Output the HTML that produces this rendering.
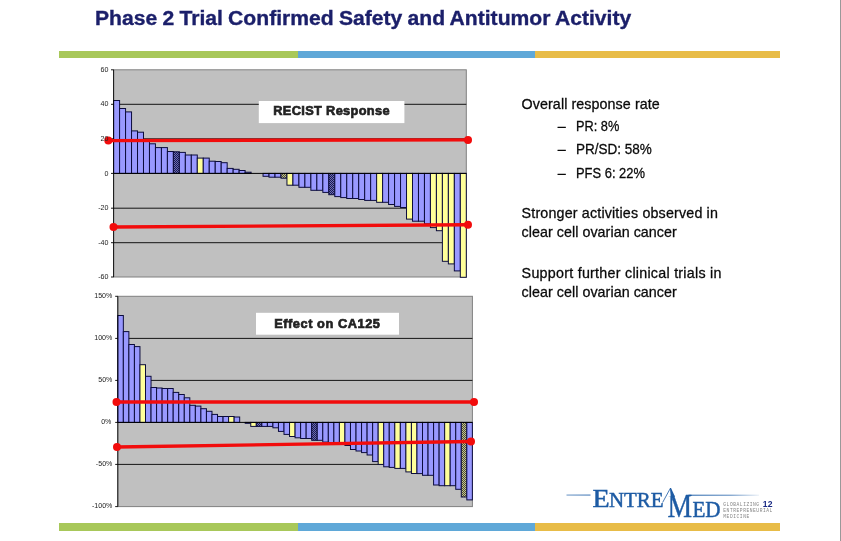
<!DOCTYPE html>
<html><head><meta charset="utf-8"><title>Phase 2 Trial Confirmed Safety and Antitumor Activity</title>
<style>
html,body{margin:0;padding:0;background:#fff;}
body{width:841px;height:541px;position:relative;overflow:hidden;font-family:"Liberation Sans",sans-serif;}
.abs{position:absolute;white-space:nowrap;}
.title{left:95.3px;top:3.3px;word-spacing:-0.6px;font-size:20px;transform:scaleX(1.056);-webkit-text-stroke:0.35px #1b1f6a;font-weight:bold;color:#1b1f6a;line-height:30px;transform-origin:0 0;}
.stripe{position:absolute;height:7px;}
.ax{font-size:7.1px;color:#222;line-height:8px;text-align:right;width:30px;}
.ct{font-size:12.8px;font-weight:bold;color:#222;line-height:14px;transform-origin:0 0;-webkit-text-stroke:0.65px #222;}
.tx{font-size:14.3px;color:#0a0a0a;-webkit-text-stroke:0.28px #0a0a0a;line-height:16px;transform-origin:0 0;}
.rb{position:absolute;right:0;top:0;width:1.5px;height:541px;background:#999;}
.logo{font-family:"Liberation Serif",serif;color:#1f5fa8;transform-origin:0 0;}
.tag{font-family:"Liberation Mono",monospace;font-size:4.6px;line-height:6px;color:#858585;letter-spacing:0.55px;}
</style></head><body>
<div class="abs title" id="title" style="letter-spacing:0.000px;">Phase 2 Trial Confirmed Safety and Antitumor Activity</div>
<div class="stripe" style="left:59px;top:51.2px;height:6.6px;width:239px;background:#a8c85a"></div>
<div class="stripe" style="left:297.9px;top:51.2px;height:6.6px;width:237px;background:#5fa8d8"></div>
<div class="stripe" style="left:534.6px;top:51.2px;height:6.6px;width:245.2px;background:#e8bc48"></div>
<div class="stripe" style="left:59px;top:523.4px;height:8px;width:239px;background:#a8c85a"></div>
<div class="stripe" style="left:297.9px;top:523.4px;height:8px;width:237px;background:#5fa8d8"></div>
<div class="stripe" style="left:534.6px;top:523.4px;height:8px;width:245.2px;background:#e8bc48"></div>
<svg width="841" height="541" viewBox="0 0 841 541" style="position:absolute;left:0;top:0">
<defs>
<pattern id="hb" width="2" height="2" patternUnits="userSpaceOnUse"><rect width="2" height="2" fill="#6a6ab8"/><rect width="1" height="1" fill="#1c1c4c"/><rect x="1" y="1" width="1" height="1" fill="#1c1c4c"/></pattern>
<pattern id="ho" width="2" height="2" patternUnits="userSpaceOnUse"><rect width="2" height="2" fill="#c4c48c"/><rect width="1" height="1" fill="#4c4c38"/><rect x="1" y="1" width="1" height="1" fill="#4c4c38"/></pattern>
<linearGradient id="fade" x1="0" x2="1"><stop offset="0" stop-color="#1f5fa8"/><stop offset="0.6" stop-color="#1f5fa8" stop-opacity="0.75"/><stop offset="1" stop-color="#1f5fa8" stop-opacity="0.1"/></linearGradient>
<linearGradient id="fadeL" x1="1" x2="0"><stop offset="0" stop-color="#1f5fa8"/><stop offset="1" stop-color="#1f5fa8" stop-opacity="0.75"/></linearGradient>
</defs>
<rect x="113.6" y="69.8" width="352.7" height="207.2" fill="#c0c0c0" stroke="#808080" stroke-width="1"/>
<line x1="113.6" x2="466.3" y1="104.3" y2="104.3" stroke="#000" stroke-width="0.9"/>
<line x1="113.6" x2="466.3" y1="138.8" y2="138.8" stroke="#000" stroke-width="0.9"/>
<line x1="113.6" x2="466.3" y1="208.2" y2="208.2" stroke="#000" stroke-width="0.9"/>
<line x1="113.6" x2="466.3" y1="242.7" y2="242.7" stroke="#000" stroke-width="0.9"/>
<g stroke="#0c0c3c" stroke-width="1">
<rect x="113.60" y="100.50" width="5.98" height="72.90" fill="#9999ff"/>
<rect x="119.58" y="108.50" width="5.98" height="64.90" fill="#9999ff"/>
<rect x="125.56" y="111.90" width="5.98" height="61.50" fill="#9999ff"/>
<rect x="131.53" y="130.90" width="5.98" height="42.50" fill="#9999ff"/>
<rect x="137.51" y="132.20" width="5.98" height="41.20" fill="#9999ff"/>
<rect x="143.49" y="139.50" width="5.98" height="33.90" fill="#9999ff"/>
<rect x="149.47" y="143.80" width="5.98" height="29.60" fill="#9999ff"/>
<rect x="155.45" y="147.60" width="5.98" height="25.80" fill="#9999ff"/>
<rect x="161.42" y="147.60" width="5.98" height="25.80" fill="#9999ff"/>
<rect x="167.40" y="151.50" width="5.98" height="21.90" fill="#9999ff"/>
<rect x="173.38" y="151.80" width="5.98" height="21.60" fill="url(#hb)"/>
<rect x="179.36" y="152.40" width="5.98" height="21.00" fill="#9999ff"/>
<rect x="185.34" y="155.00" width="5.98" height="18.40" fill="#9999ff"/>
<rect x="191.31" y="155.00" width="5.98" height="18.40" fill="#9999ff"/>
<rect x="197.29" y="158.10" width="5.98" height="15.30" fill="#ffff99"/>
<rect x="203.27" y="158.10" width="5.98" height="15.30" fill="#9999ff"/>
<rect x="209.25" y="161.20" width="5.98" height="12.20" fill="#9999ff"/>
<rect x="215.23" y="161.50" width="5.98" height="11.90" fill="#9999ff"/>
<rect x="221.20" y="162.70" width="5.98" height="10.70" fill="#9999ff"/>
<rect x="227.18" y="168.40" width="5.98" height="5.00" fill="#9999ff"/>
<rect x="233.16" y="169.30" width="5.98" height="4.10" fill="#9999ff"/>
<rect x="239.14" y="170.50" width="5.98" height="2.90" fill="#9999ff"/>
<rect x="245.12" y="172.20" width="5.98" height="1.20" fill="#9999ff"/>
<rect x="263.05" y="173.40" width="5.98" height="2.90" fill="#9999ff"/>
<rect x="269.03" y="173.40" width="5.98" height="3.80" fill="#9999ff"/>
<rect x="275.01" y="173.40" width="5.98" height="3.80" fill="#9999ff"/>
<rect x="280.98" y="173.40" width="5.98" height="4.80" fill="url(#ho)"/>
<rect x="286.96" y="173.40" width="5.98" height="11.80" fill="#ffff99"/>
<rect x="292.94" y="173.40" width="5.98" height="11.80" fill="#9999ff"/>
<rect x="298.92" y="173.40" width="5.98" height="13.90" fill="#9999ff"/>
<rect x="304.90" y="173.40" width="5.98" height="13.90" fill="#9999ff"/>
<rect x="310.87" y="173.40" width="5.98" height="16.90" fill="#9999ff"/>
<rect x="316.85" y="173.40" width="5.98" height="16.90" fill="#9999ff"/>
<rect x="322.83" y="173.40" width="5.98" height="19.00" fill="#9999ff"/>
<rect x="328.81" y="173.40" width="5.98" height="21.30" fill="url(#hb)"/>
<rect x="334.79" y="173.40" width="5.98" height="23.20" fill="#9999ff"/>
<rect x="340.76" y="173.40" width="5.98" height="24.20" fill="#9999ff"/>
<rect x="346.74" y="173.40" width="5.98" height="25.10" fill="#9999ff"/>
<rect x="352.72" y="173.40" width="5.98" height="25.10" fill="#9999ff"/>
<rect x="358.70" y="173.40" width="5.98" height="26.10" fill="#9999ff"/>
<rect x="364.68" y="173.40" width="5.98" height="27.00" fill="#9999ff"/>
<rect x="370.65" y="173.40" width="5.98" height="27.00" fill="#9999ff"/>
<rect x="376.63" y="173.40" width="5.98" height="28.90" fill="#ffff99"/>
<rect x="382.61" y="173.40" width="5.98" height="28.90" fill="#9999ff"/>
<rect x="388.59" y="173.40" width="5.98" height="31.10" fill="#9999ff"/>
<rect x="394.57" y="173.40" width="5.98" height="33.00" fill="#9999ff"/>
<rect x="400.54" y="173.40" width="5.98" height="34.10" fill="#9999ff"/>
<rect x="406.52" y="173.40" width="5.98" height="45.70" fill="#ffff99"/>
<rect x="412.50" y="173.40" width="5.98" height="47.80" fill="#9999ff"/>
<rect x="418.48" y="173.40" width="5.98" height="47.80" fill="#9999ff"/>
<rect x="424.46" y="173.40" width="5.98" height="50.40" fill="#9999ff"/>
<rect x="430.43" y="173.40" width="5.98" height="54.20" fill="#ffff99"/>
<rect x="436.41" y="173.40" width="5.98" height="57.30" fill="#ffff99"/>
<rect x="442.39" y="173.40" width="5.98" height="87.90" fill="#ffff99"/>
<rect x="448.37" y="173.40" width="5.98" height="90.50" fill="#ffff99"/>
<rect x="454.35" y="173.40" width="5.98" height="97.50" fill="#9999ff"/>
<rect x="460.32" y="173.40" width="5.98" height="103.90" fill="#ffff99"/>
</g>
<line x1="113.6" x2="466.3" y1="173.4" y2="173.4" stroke="#000" stroke-width="1"/>
<line x1="113.6" x2="113.6" y1="69.8" y2="277.0" stroke="#000" stroke-width="0.85"/>
<line x1="111" x2="113.6" y1="69.8" y2="69.8" stroke="#000" stroke-width="0.9"/>
<line x1="111" x2="113.6" y1="104.3" y2="104.3" stroke="#000" stroke-width="0.9"/>
<line x1="111" x2="113.6" y1="138.8" y2="138.8" stroke="#000" stroke-width="0.9"/>
<line x1="111" x2="113.6" y1="173.4" y2="173.4" stroke="#000" stroke-width="0.9"/>
<line x1="111" x2="113.6" y1="208.2" y2="208.2" stroke="#000" stroke-width="0.9"/>
<line x1="111" x2="113.6" y1="242.7" y2="242.7" stroke="#000" stroke-width="0.9"/>
<line x1="111" x2="113.6" y1="277.0" y2="277.0" stroke="#000" stroke-width="0.9"/>
<rect x="117.8" y="296.3" width="354.6" height="210.3" fill="#c0c0c0" stroke="#808080" stroke-width="1"/>
<line x1="117.8" x2="472.4" y1="338.4" y2="338.4" stroke="#000" stroke-width="0.9"/>
<line x1="117.8" x2="472.4" y1="380.4" y2="380.4" stroke="#000" stroke-width="0.9"/>
<line x1="117.8" x2="472.4" y1="464.4" y2="464.4" stroke="#000" stroke-width="0.9"/>
<g stroke="#0c0c3c" stroke-width="1">
<rect x="117.80" y="315.50" width="5.54" height="106.90" fill="#9999ff"/>
<rect x="123.34" y="331.60" width="5.54" height="90.80" fill="#9999ff"/>
<rect x="128.88" y="344.50" width="5.54" height="77.90" fill="#9999ff"/>
<rect x="134.42" y="346.60" width="5.54" height="75.80" fill="#9999ff"/>
<rect x="139.96" y="364.70" width="5.54" height="57.70" fill="#ffff99"/>
<rect x="145.50" y="376.30" width="5.54" height="46.10" fill="#9999ff"/>
<rect x="151.04" y="387.50" width="5.54" height="34.90" fill="#9999ff"/>
<rect x="156.58" y="388.00" width="5.54" height="34.40" fill="#9999ff"/>
<rect x="162.12" y="388.50" width="5.54" height="33.90" fill="#9999ff"/>
<rect x="167.66" y="388.50" width="5.54" height="33.90" fill="#9999ff"/>
<rect x="173.20" y="392.40" width="5.54" height="30.00" fill="#9999ff"/>
<rect x="178.74" y="394.50" width="5.54" height="27.90" fill="#9999ff"/>
<rect x="184.28" y="397.80" width="5.54" height="24.60" fill="#9999ff"/>
<rect x="189.82" y="405.30" width="5.54" height="17.10" fill="#9999ff"/>
<rect x="195.36" y="406.10" width="5.54" height="16.30" fill="#9999ff"/>
<rect x="200.90" y="408.70" width="5.54" height="13.70" fill="#9999ff"/>
<rect x="206.44" y="411.30" width="5.54" height="11.10" fill="#9999ff"/>
<rect x="211.98" y="414.40" width="5.54" height="8.00" fill="#9999ff"/>
<rect x="217.52" y="416.50" width="5.54" height="5.90" fill="#9999ff"/>
<rect x="223.06" y="416.50" width="5.54" height="5.90" fill="#9999ff"/>
<rect x="228.60" y="416.50" width="5.54" height="5.90" fill="#ffff99"/>
<rect x="234.14" y="417.00" width="5.54" height="5.40" fill="#9999ff"/>
<rect x="245.22" y="422.40" width="5.54" height="0.90" fill="#9999ff"/>
<rect x="250.76" y="422.40" width="5.54" height="4.00" fill="#ffff99"/>
<rect x="256.30" y="422.40" width="5.54" height="4.00" fill="url(#hb)"/>
<rect x="261.84" y="422.40" width="5.54" height="4.00" fill="#9999ff"/>
<rect x="267.38" y="422.40" width="5.54" height="4.00" fill="#9999ff"/>
<rect x="272.92" y="422.40" width="5.54" height="5.40" fill="#9999ff"/>
<rect x="278.46" y="422.40" width="5.54" height="9.00" fill="#9999ff"/>
<rect x="284.00" y="422.40" width="5.54" height="12.00" fill="#9999ff"/>
<rect x="289.54" y="422.40" width="5.54" height="14.10" fill="#ffff99"/>
<rect x="295.08" y="422.40" width="5.54" height="15.40" fill="#9999ff"/>
<rect x="300.62" y="422.40" width="5.54" height="16.10" fill="#9999ff"/>
<rect x="306.16" y="422.40" width="5.54" height="16.10" fill="#9999ff"/>
<rect x="311.70" y="422.40" width="5.54" height="17.90" fill="url(#hb)"/>
<rect x="317.24" y="422.40" width="5.54" height="17.90" fill="#9999ff"/>
<rect x="322.78" y="422.40" width="5.54" height="19.70" fill="#9999ff"/>
<rect x="328.32" y="422.40" width="5.54" height="20.20" fill="#9999ff"/>
<rect x="333.86" y="422.40" width="5.54" height="20.90" fill="#9999ff"/>
<rect x="339.40" y="422.40" width="5.54" height="22.00" fill="#ffff99"/>
<rect x="344.94" y="422.40" width="5.54" height="23.10" fill="#9999ff"/>
<rect x="350.48" y="422.40" width="5.54" height="27.10" fill="#9999ff"/>
<rect x="356.02" y="422.40" width="5.54" height="28.60" fill="#9999ff"/>
<rect x="361.56" y="422.40" width="5.54" height="30.20" fill="#9999ff"/>
<rect x="367.10" y="422.40" width="5.54" height="32.60" fill="#9999ff"/>
<rect x="372.64" y="422.40" width="5.54" height="39.20" fill="#9999ff"/>
<rect x="378.18" y="422.40" width="5.54" height="42.00" fill="#ffff99"/>
<rect x="383.72" y="422.40" width="5.54" height="44.40" fill="#9999ff"/>
<rect x="389.26" y="422.40" width="5.54" height="45.00" fill="#9999ff"/>
<rect x="394.80" y="422.40" width="5.54" height="46.00" fill="#ffff99"/>
<rect x="400.34" y="422.40" width="5.54" height="46.00" fill="#9999ff"/>
<rect x="405.88" y="422.40" width="5.54" height="49.50" fill="#ffff99"/>
<rect x="411.42" y="422.40" width="5.54" height="51.10" fill="#ffff99"/>
<rect x="416.96" y="422.40" width="5.54" height="51.20" fill="#9999ff"/>
<rect x="422.50" y="422.40" width="5.54" height="52.90" fill="#9999ff"/>
<rect x="428.04" y="422.40" width="5.54" height="52.90" fill="#9999ff"/>
<rect x="433.58" y="422.40" width="5.54" height="62.60" fill="#9999ff"/>
<rect x="439.12" y="422.40" width="5.54" height="63.30" fill="#9999ff"/>
<rect x="444.66" y="422.40" width="5.54" height="63.30" fill="#ffff99"/>
<rect x="450.20" y="422.40" width="5.54" height="63.30" fill="#9999ff"/>
<rect x="455.74" y="422.40" width="5.54" height="66.90" fill="#9999ff"/>
<rect x="461.28" y="422.40" width="5.54" height="74.60" fill="url(#ho)"/>
<rect x="466.82" y="422.40" width="5.54" height="77.50" fill="#9999ff"/>
</g>
<line x1="117.8" x2="472.4" y1="422.4" y2="422.4" stroke="#000" stroke-width="1"/>
<line x1="117.8" x2="117.8" y1="296.3" y2="506.6" stroke="#000" stroke-width="0.85"/>
<line x1="115.2" x2="117.8" y1="296.3" y2="296.3" stroke="#000" stroke-width="0.9"/>
<line x1="115.2" x2="117.8" y1="338.4" y2="338.4" stroke="#000" stroke-width="0.9"/>
<line x1="115.2" x2="117.8" y1="380.4" y2="380.4" stroke="#000" stroke-width="0.9"/>
<line x1="115.2" x2="117.8" y1="422.4" y2="422.4" stroke="#000" stroke-width="0.9"/>
<line x1="115.2" x2="117.8" y1="464.4" y2="464.4" stroke="#000" stroke-width="0.9"/>
<line x1="115.2" x2="117.8" y1="506.6" y2="506.6" stroke="#000" stroke-width="0.9"/>
<rect x="258.8" y="101" width="145.6" height="22.1" fill="#fff"/>
<rect x="256" y="312.8" width="143" height="21.9" fill="#fff"/>
<line x1="108.3" y1="140.6" x2="468" y2="139.9" stroke="#f20c0c" stroke-width="3.4"/><circle cx="108.3" cy="140.6" r="4" fill="#f20c0c"/><circle cx="468" cy="139.9" r="4" fill="#f20c0c"/>
<line x1="113.5" y1="227" x2="468" y2="224.7" stroke="#f20c0c" stroke-width="3.4"/><circle cx="113.5" cy="227" r="4" fill="#f20c0c"/><circle cx="468" cy="224.7" r="4" fill="#f20c0c"/>
<line x1="116.5" y1="402" x2="474" y2="402" stroke="#f20c0c" stroke-width="3.4"/><circle cx="116.5" cy="402" r="4" fill="#f20c0c"/><circle cx="474" cy="402" r="4" fill="#f20c0c"/>
<line x1="117" y1="447" x2="471" y2="441.5" stroke="#f20c0c" stroke-width="3.4"/><circle cx="117" cy="447" r="4" fill="#f20c0c"/><circle cx="471" cy="441.5" r="4" fill="#f20c0c"/>
<g fill="#1d5ba4" font-family="Liberation Serif, serif" stroke="#1d5ba4" stroke-width="0.45">
<rect x="566.5" y="494.6" width="24" height="0.9" fill="url(#fadeL)" stroke="none"/>
<rect x="688.5" y="494.7" width="70.5" height="1" fill="url(#fade)" stroke="none"/>
<text id="lgE" x="592.6" y="506.9" font-size="25.2" textLength="17.2" lengthAdjust="spacingAndGlyphs">E</text>
<text id="lg1" x="609" y="506.9" font-size="20.2" textLength="54.6" lengthAdjust="spacingAndGlyphs">NTRE</text>
<text id="lgM" x="667.5" y="517.4" font-size="33.5" textLength="24.6" lengthAdjust="spacingAndGlyphs">M</text>
<rect x="665.5" y="493" width="5.4" height="3.4" fill="#fff" stroke="none"/>
<line x1="670.6" y1="488.4" x2="671.1" y2="497" stroke="#1d5ba4" stroke-width="0.7"/>
<line x1="662.6" y1="502.5" x2="670.4" y2="488.2" stroke="#1d5ba4" stroke-width="0.8"/>
<polygon points="670.0,488.0 671.0,488.0 675.0,496.8 671.3,496.8" stroke="none"/>
<text id="lg2" x="692.4" y="517.3" font-size="22.2" textLength="28.2" lengthAdjust="spacingAndGlyphs">ED</text>
</g>
</svg>
<div class="abs ax" style="left:78.4px;top:66px">60</div>
<div class="abs ax" style="left:78.4px;top:100px">40</div>
<div class="abs ax" style="left:78.4px;top:135px">20</div>
<div class="abs ax" style="left:78.4px;top:169.5px">0</div>
<div class="abs ax" style="left:78.4px;top:204px">-20</div>
<div class="abs ax" style="left:78.4px;top:239px">-40</div>
<div class="abs ax" style="left:78.4px;top:273px">-60</div>
<div class="abs ax" style="left:82.4px;top:292px">150%</div>
<div class="abs ax" style="left:82.4px;top:334px">100%</div>
<div class="abs ax" style="left:82.4px;top:376px">50%</div>
<div class="abs ax" style="left:81.4px;top:418px">0%</div>
<div class="abs ax" style="left:82.4px;top:460px">-50%</div>
<div class="abs ax" style="left:82.4px;top:502px">-100%</div>
<div class="abs ct" id="ct1" style="letter-spacing:0.341px;left:273.2px;top:104px">RECIST Response</div>
<div class="abs ct" id="ct2" style="letter-spacing:0.542px;left:274.2px;top:316.5px">Effect on CA125</div>
<div class="abs tx" id="t1" style="letter-spacing:0.074px;left:521.6px;top:96px">Overall response rate</div>
<div class="abs tx" id="d1" style="left:557.8px;top:118px">–</div>
<div class="abs tx" id="t2" style="letter-spacing:0.000px;transform:scaleX(0.8934);left:575.7px;top:118px">PR: 8%</div>
<div class="abs tx" id="d2" style="left:557.8px;top:141px">–</div>
<div class="abs tx" id="t3" style="letter-spacing:0.000px;transform:scaleX(0.9444);left:575.7px;top:141px">PR/SD: 58%</div>
<div class="abs tx" id="d3" style="left:557.8px;top:164.5px">–</div>
<div class="abs tx" id="t4" style="letter-spacing:0.000px;transform:scaleX(0.9044);left:575.7px;top:164.5px">PFS 6: 22%</div>
<div class="abs tx" id="t5" style="letter-spacing:0.160px;left:521.6px;top:205px">Stronger activities observed in</div>
<div class="abs tx" id="t6" style="letter-spacing:0.042px;left:521.6px;top:223.5px">clear cell ovarian cancer</div>
<div class="abs tx" id="t7" style="letter-spacing:0.253px;left:521.6px;top:265px">Support further clinical trials in</div>
<div class="abs tx" id="t8" style="letter-spacing:0.042px;left:521.6px;top:284px">clear cell ovarian cancer</div>
<div class="abs tag" style="left:723.3px;top:501.5px">GLOBALIZING<br>ENTREPRENEURIAL<br>MEDICINE</div>
<div class="abs" id="pg" style="left:762.8px;top:498.5px;font-size:8.6px;font-weight:bold;color:#1a2a84;line-height:10px;letter-spacing:0.2px">12</div>
<div class="rb"></div>
</body></html>
